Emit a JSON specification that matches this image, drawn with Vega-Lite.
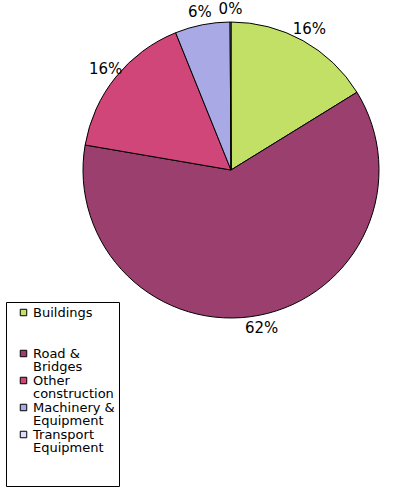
{
  "$schema": "https://vega.github.io/schema/vega-lite/v6.json",
  "width": 338,
  "height": 340,
  "padding": {"left": 62, "top": 0, "right": 0, "bottom": 151},
  "autosize": {"type": "none"},
  "background": "white",
  "config": {"style": {"guide-label": {"lineHeight": 13.5}}},
  "data": {
    "values": [
      {"category": "Buildings", "share": 16.2, "label": "16%", "k": 1},
      {"category": "Road & Bridges", "share": 61.5, "label": "62%", "k": 2},
      {"category": "Other construction", "share": 16.2, "label": "16%", "k": 3},
      {"category": "Machinery & Equipment", "share": 6.0, "label": "6%", "k": 4},
      {"category": "Transport Equipment", "share": 0.1, "label": "0%", "k": 5}
    ]
  },
  "encoding": {
    "theta": {"field": "share", "type": "quantitative", "stack": true},
    "order": {"field": "k", "type": "quantitative"}
  },
  "layer": [
    {
      "mark": {"type": "arc", "outerRadius": 148, "stroke": "black", "strokeWidth": 1},
      "encoding": {
        "color": {
          "field": "category",
          "type": "nominal",
          "scale": {
            "domain": ["Buildings", "Road & Bridges", "Other construction", "Machinery & Equipment", "Transport Equipment"],
            "range": ["#c2df66", "#9b3f6e", "#d04678", "#a9a9e6", "#dcdcff"]
          },
          "legend": {
            "orient": "none",
            "legendX": -56,
            "legendY": 302,
            "title": null,
            "strokeColor": "black",
            "fillColor": "white",
            "padding": 4,
            "symbolOffset": 7,
            "symbolType": "square",
            "symbolSize": 42,
            "symbolStrokeColor": "black",
            "symbolStrokeWidth": 1,
            "labelFont": "DejaVu Sans",
            "labelFontSize": 13,
            "labelColor": "black",
            "labelOffset": 3,
            "labelLimit": 200,
            "rowPadding": 0,
            "labelExpr": "datum.label == 'Buildings' ? ['Buildings', '', ''] : datum.label == 'Road & Bridges' ? ['Road &', 'Bridges'] : datum.label == 'Other construction' ? ['Other', 'construction  '] : datum.label == 'Machinery & Equipment' ? ['Machinery &', 'Equipment'] : ['Transport', 'Equipment', '', '']"
          }
        }
      }
    },
    {
      "mark": {"type": "text", "radius": 161, "font": "DejaVu Sans", "fontSize": 15, "color": "black"},
      "encoding": {
        "text": {"field": "label", "type": "nominal"}
      }
    }
  ]
}
